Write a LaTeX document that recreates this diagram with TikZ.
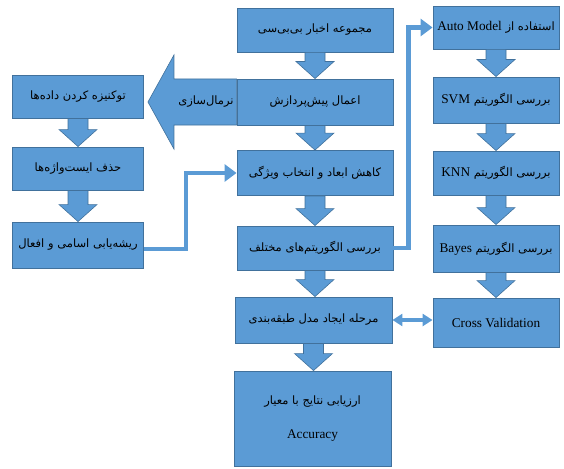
\documentclass[tikz,border=0pt]{standalone}
\usepackage{fontspec}
\setmainfont{Liberation Serif}
\newfontfamily\arabicfont[Script=Arabic]{DejaVu Sans}
\TeXXeTstate=1
\usetikzlibrary{arrows.meta,calc}
\definecolor{boxblue}{HTML}{5B9BD5}
\definecolor{boxedge}{HTML}{41719C}
\newcommand\fa[1]{{\arabicfont\beginR #1\endR}}
\newcommand\la[1]{\beginL{\rmfamily\fontsize{13.3}{15}\selectfont #1}\endL{}}
\tikzset{
  box/.style={draw=boxedge, fill=boxblue, line width=0.9pt, inner sep=2pt,
    align=center, font=\fontsize{11.5}{14}\selectfont},
  blockarrow/.style={draw=boxedge, fill=boxblue, line width=0.6pt, line join=miter},
  conn/.style={draw=boxblue, line width=4.8pt, -{Triangle[width=17pt,length=12pt]}},
  dconn/.style={draw=boxblue, line width=3.6pt, {Triangle[width=12pt,length=10pt]}-{Triangle[width=12pt,length=10pt]}},
  lbl/.style={font=\fontsize{11.5}{14}\selectfont, inner sep=1pt}
}
\newcommand\downblock[2]{%
  \path[blockarrow] let \p1=(#1.south), \p2=(#2.north) in
    (\x1-10pt,\y1) -- (\x1+10pt,\y1) -- (\x1+10pt,\y2+17pt) -- (\x1+19pt,\y2+17pt)
    -- (\x1,\y2) -- (\x1-19pt,\y2+17pt) -- (\x1-10pt,\y2+17pt) -- cycle;}
\begin{document}
\begin{tikzpicture}[x=1pt,y=1pt]
\useasboundingbox (0,0) rectangle (564,-468);
% centre column
\node[box, minimum width=156pt, minimum height=44pt] (c1) at (315,-30) {\fa{مجموعه اخبار بی‌بی‌سی}};
\node[box, minimum width=156pt, minimum height=46pt] (c2) at (315,-102) {\fa{اعمال پیش‌پردازش}};
\node[box, minimum width=156pt, minimum height=45pt] (c3) at (315,-173) {\fa{کاهش ابعاد و انتخاب ویژگی}};
\node[box, minimum width=156pt, minimum height=44pt] (c4) at (315,-248) {\fa{بررسی الگوریتم‌های مختلف}};
\node[box, minimum width=157pt, minimum height=46pt] (c5) at (313.5,-320) {\fa{مرحله ایجاد مدل طبقه‌بندی}};
\node[box, minimum width=157pt, minimum height=95pt] (c6) at (312.5,-418.5) {\fa{ارزیابی نتایج با معیار}\\[20pt]\la{Accuracy}};
% right column
\node[box, minimum width=126pt, minimum height=43pt] (r1) at (496,-27.5) {\fa{استفاده از \la{Auto Model}}};
\node[box, minimum width=126pt, minimum height=46pt] (r2) at (496,-100) {\fa{بررسی الگوریتم \la{SVM}}};
\node[box, minimum width=126pt, minimum height=44pt] (r3) at (496,-173) {\fa{بررسی الگوریتم \la{KNN}}};
\node[box, minimum width=126pt, minimum height=47pt] (r4) at (496,-248.5) {\fa{بررسی الگوریتم \la{Bayes}}};
\node[box, minimum width=126pt, minimum height=49pt] (r5) at (496,-322.5) {\la{Cross Validation}};
% left column
\node[box, minimum width=131pt, minimum height=43pt] (l1) at (78,-96.5) {\fa{توکنیزه کردن داده‌ها}};
\node[box, minimum width=131pt, minimum height=43pt] (l2) at (78,-168.5) {\fa{حذف ایست‌واژه‌ها}};
\node[box, minimum width=131pt, minimum height=46pt] (l3) at (78,-245) {\fa{ریشه‌یابی اسامی و افعال}};
% block arrows
\downblock{c1}{c2}
\downblock{c2}{c3}
\downblock{c3}{c4}
\downblock{c4}{c5}
\downblock{c5}{c6}
\downblock{r1}{r2}
\downblock{r2}{r3}
\downblock{r3}{r4}
\downblock{r4}{r5}
\downblock{l1}{l2}
\downblock{l2}{l3}
% big normalisation arrow
\path[blockarrow] let \p1=(c2.west), \p2=(l1.east) in
  (\x1,\y1+23pt) -- (\x2+30pt,\y1+23pt) -- (\x2+30pt,\y1+47pt) -- (\x2+4pt,\y1)
  -- (\x2+30pt,\y1-47pt) -- (\x2+30pt,\y1-23pt) -- (\x1,\y1-23pt) -- cycle;
\node[lbl] (nl) at (206,-102) {\fa{نرمال‌سازی}};
% connectors
\draw[conn] ([yshift=-4pt]l3.east) -- ++(42pt,0) |- (c3.west);
\draw[conn] (c4.east) -- ++(15pt,0) |- (r1.west);
\draw[dconn] (c5.east) -- (c5.east -| r5.west);
\end{tikzpicture}
\end{document}
